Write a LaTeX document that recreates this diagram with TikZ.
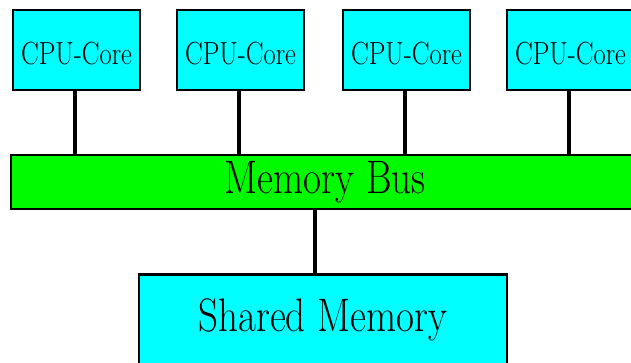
\documentclass[tikz,border=0pt]{standalone}
\usepackage{graphicx}
\usetikzlibrary{backgrounds}
\definecolor{corecyan}{RGB}{0,255,255}
\definecolor{busgreen}{RGB}{0,250,0}
\tikzset{
  unitbox/.style={draw=black, line width=2.2pt, inner sep=0pt},
  core/.style={unitbox, fill=corecyan, minimum width=127pt, minimum height=80pt,
    text height=28pt, text depth=0pt,
    font=\fontsize{32pt}{36pt}\selectfont},
  membus/.style={unitbox, fill=busgreen, minimum width=628pt, minimum height=54pt,
    font=\fontsize{47pt}{52pt}\selectfont},
  memory/.style={unitbox, fill=corecyan, minimum width=368pt, minimum height=91pt,
    font=\fontsize{47pt}{52pt}\selectfont},
  wire/.style={line width=4pt, draw=black}
}
\newcommand{\narrow}[1]{\scalebox{0.83}[1]{#1}}
\begin{document}
\begin{tikzpicture}[x=1pt, y=-1pt]
  \useasboundingbox (0,0) rectangle (631,362);
  \clip (0,0) rectangle (631,362);

  % processor cores
  \node[core] (c1) at (76.5,50) {\narrow{CPU-Core}};
  \node[core] (c2) at (240.5,50) {\narrow{CPU-Core}};
  \node[core] (c3) at (406.5,50) {\narrow{CPU-Core}};
  \node[core] (c4) at (570.5,50) {\narrow{CPU-Core}};

  % shared bus and memory
  \node[membus] (bus) at (325,182.3) {\narrow{Memory Bus}};
  \node[memory] (mem) at (323,320) {\narrow{Shared Memory}};

  \begin{scope}[on background layer]
    \foreach \c in {c1,c2,c3,c4}
      \draw[wire] ([xshift=-1.5pt]\c.south) -- ([xshift=-1.5pt]\c.south |- bus.north);
    \draw[wire] ([xshift=-8pt]mem.north) -- ([xshift=-8pt]mem.north |- bus.south);
  \end{scope}
\end{tikzpicture}
\end{document}
